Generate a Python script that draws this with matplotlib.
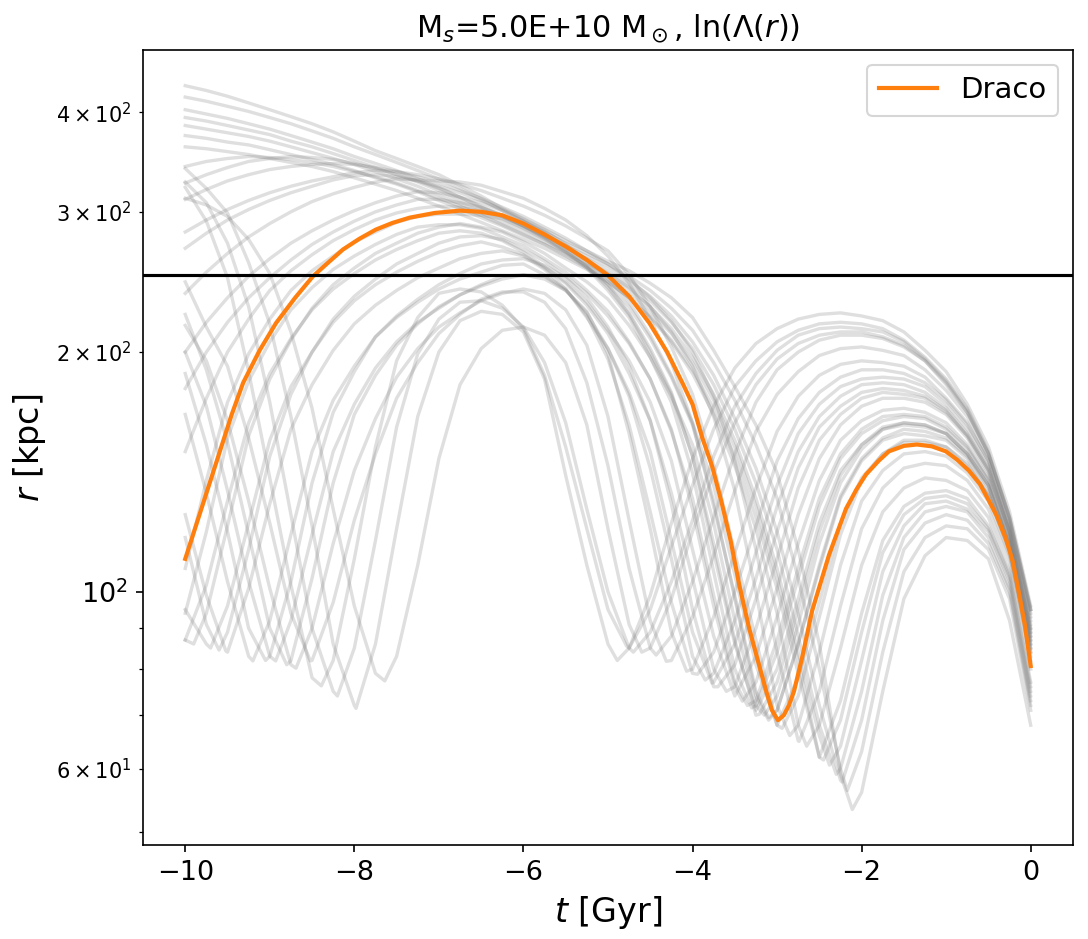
import numpy as np
import matplotlib.pyplot as plt

# common time grid [Gyr] for the grey orbits
t_grid = np.linspace(-10, 0, 41)

# Draco orbit
draco_t = [-10.0, -9.8, -9.587, -9.45, -9.315, -9.12, -8.926, -8.7, -8.489, -8.31,
           -8.135, -7.94, -7.745, -7.55, -7.344, -7.05, -6.753, -6.5, -6.25, -6.0,
           -5.75, -5.49, -5.25, -5.006, -4.75, -4.51, -4.3, -4.12, -4.0, -3.884,
           -3.77, -3.66, -3.55, -3.447, -3.33, -3.2, -3.12, -3.06, -2.99, -2.92,
           -2.86, -2.8, -2.7, -2.586, -2.385, -2.184, -2.06, -1.948, -1.8, -1.677,
           -1.5, -1.346, -1.17, -1.004, -0.87, -0.732, -0.6, -0.496, -0.4, -0.295,
           -0.21, -0.142, -0.07, 0.0]
draco_r = [110, 128, 150.5, 167, 183, 201, 217.5, 234, 249, 259,
           269, 277.5, 285, 290.5, 295, 299, 301, 300, 297, 290,
           281, 271, 261, 250, 235, 217.5, 200, 183, 172, 156,
           144, 130, 116, 102, 90, 80, 74.5, 71, 69, 70,
           72, 75, 83, 94.6, 111.3, 127.2, 134.5, 140.4, 146, 150.1,
           152.5, 153.1, 152.3, 150.1, 146.5, 142, 136.5, 130.2, 124.5, 116.7,
           109, 100, 91, 80.7]

# grey orbits on t_grid, plus pericentres (t, r) that fall between grid points
orbit_c1 = [432, 426, 419, 411, 403, 395, 387, 378, 368, 358, 350, 342, 334, 324, 314, 303, 294, 285, 276, 268,
            260, 253, 244, 234, 221, 201, 181, 162, 141, 113, 86, 59, 56, 75, 98, 111, 117, 116, 110, 92, 68]
peri_c1 = [(-2.11, 53.3)]
orbit_c2 = [418, 413, 407, 401, 394, 387, 379, 371, 362, 354, 346, 338, 330, 321, 311, 301, 292, 283, 274, 266,
            258, 249, 239, 227, 213, 194, 174, 153, 131, 104, 80, 60, 63, 84, 106, 117, 121, 120, 113, 98, 71]
peri_c2 = [(-2.17, 56.3)]
orbit_c3 = [403, 398, 393, 387, 381, 374, 367, 360, 352, 345, 338, 330, 322, 313, 304, 296, 288, 280, 272, 264,
            256, 246, 235, 222, 206, 187, 165, 143, 119, 94, 72, 58, 69, 92, 113, 122, 125, 123, 115, 100, 72]
peri_c3 = [(-2.23, 57.7)]
orbit_c4 = [385, 381, 377, 373, 368, 362, 356, 350, 344, 337, 330, 323, 315, 307, 299, 291, 283, 275, 267, 259,
            250, 240, 228, 214, 197, 177, 155, 131, 107, 84, 66, 64, 82, 106, 121, 129, 130, 127, 119, 103, 74]
peri_c4 = [(-2.38, 60.6)]
orbit_c5 = [362, 360, 357, 354, 350, 346, 342, 337, 331, 325, 319, 312, 305, 298, 291, 284, 277, 270, 262, 254,
            245, 234, 222, 207, 190, 170, 148, 124, 101, 79, 62, 73, 94, 116, 128, 133, 134, 131, 121, 105, 76]
peri_c5 = []
orbit_c6 = [342, 347, 350, 352, 351, 349, 346, 342, 337, 332, 326, 319, 312, 305, 297, 289, 281, 273, 264, 255,
            245, 234, 221, 206, 188, 167, 144, 120, 94, 68, 68, 85, 108, 126, 135, 139, 138, 134, 124, 106, 77]
peri_c6 = [(-2.65, 64)]
orbit_c7 = [394, 390, 385, 380, 375, 368, 362, 355, 348, 341, 334, 327, 319, 310, 302, 294, 286, 278, 270, 262,
            253, 243, 232, 218, 202, 182, 160, 137, 113, 88, 68, 60, 75, 99, 117, 126, 128, 126, 117, 101, 73]
peri_c7 = [(-2.3, 59)]
orbit_c8 = [374, 371, 367, 364, 359, 354, 349, 344, 338, 331, 325, 318, 310, 303, 295, 288, 280, 273, 265, 257,
            248, 237, 225, 211, 194, 174, 152, 128, 104, 82, 62, 69, 89, 112, 125, 131, 132, 129, 120, 104, 75]
peri_c8 = [(-2.45, 61.5)]
orbit_b1 = [326, 334, 341, 347, 350, 352, 351, 349, 345, 340, 334, 328, 321, 313, 305, 297, 289, 280, 271, 261,
            251, 241, 228, 212, 192, 166, 134, 100, 72, 68, 84, 108, 130, 142, 149, 150, 148, 141, 130, 111, 82]
peri_b1 = [(-2.85, 66)]
orbit_b2 = [311, 320, 328, 334, 339, 342, 344, 345, 344, 341, 337, 332, 326, 319, 312, 304, 296, 287, 278, 268,
            258, 247, 234, 219, 200, 176, 146, 113, 84, 65, 75, 96, 120, 135, 143, 145, 144, 138, 127, 109, 80]
peri_b2 = [(-2.74, 64.9)]
orbit_b3 = [283, 293, 302, 310, 317, 323, 328, 332, 336, 338, 337, 334, 330, 325, 319, 312, 305, 297, 288, 278,
            268, 250, 228, 203, 177, 144, 112, 87, 68, 74, 93, 118, 138, 149, 155, 155, 152, 145, 132, 113, 84]
peri_b3 = [(-2.94, 67.4)]
orbit_b4 = [237, 252, 266, 279, 290, 300, 309, 316, 322, 327, 330, 329, 328, 327, 324, 318, 312, 303, 293, 280,
            264, 244, 220, 194, 163, 128, 99, 75, 71, 86, 108, 132, 147, 156, 160, 159, 156, 148, 135, 114, 85]
peri_b4 = [(-3.1, 69.5)]
orbit_b5 = [200, 218, 234, 249, 262, 274, 284, 293, 301, 308, 314, 318, 317, 313, 308, 301, 292, 282, 270, 258,
            243, 224, 202, 178, 148, 115, 87, 70, 77, 95, 119, 140, 153, 160, 163, 162, 158, 149, 136, 115, 86]
peri_b5 = [(-3.21, 70.2)]
orbit_b6 = [150, 175, 200, 220, 239, 253, 265, 276, 285, 293, 299, 303, 305, 304, 301, 296, 288, 278, 267, 255,
            239, 221, 197, 173, 141, 106, 80, 72, 84, 104, 128, 147, 158, 164, 166, 165, 160, 151, 138, 116, 87]
peri_b6 = [(-3.3, 71.5)]
orbit_b7 = [94, 119, 156, 184, 206, 226, 241, 254, 264, 273, 281, 287, 289, 289, 286, 279, 272, 262, 252, 239,
            225, 206, 185, 160, 127, 96, 76, 77, 93, 115, 138, 155, 164, 169, 170, 168, 163, 153, 139, 117, 88]
peri_b7 = [(-3.41, 72.9)]
orbit_b8 = [87, 102, 130, 163, 188, 208, 226, 240, 251, 261, 269, 276, 282, 284, 282, 276, 267, 256, 245, 231,
            213, 195, 173, 146, 113, 88, 74, 83, 101, 125, 147, 162, 171, 175, 175, 173, 167, 156, 141, 118, 88]
peri_b8 = []
orbit_b9 = [95, 86, 96, 122, 155, 181, 200, 218, 232, 243, 252, 260, 267, 272, 275, 271, 265, 255, 244, 229,
            211, 188, 164, 133, 104, 80, 76, 90, 110, 135, 155, 167, 175, 178, 177, 175, 168, 157, 142, 119, 89]
peri_b9 = [(-9.7, 85), (-3.6, 75)]
orbit_b10 = [125, 99, 84, 101, 129, 160, 182, 201, 217, 229, 239, 248, 255, 262, 266, 268, 264, 254, 240, 221,
             202, 178, 150, 116, 89, 77, 86, 104, 128, 150, 166, 176, 182, 183, 182, 178, 170, 158, 143, 119, 90]
peri_b10 = [(-9.52, 84.3), (-3.77, 76.8)]
orbit_b11 = [167, 133, 103, 83, 92, 118, 150, 174, 192, 209, 221, 231, 240, 247, 252, 257, 258, 250, 240, 222,
             196, 162, 126, 97, 79, 84, 100, 121, 146, 165, 178, 186, 190, 190, 188, 183, 174, 162, 146, 120, 91]
peri_b11 = [(-9.2, 81.9), (-3.94, 78.8)]
orbit_b12 = [200, 171, 134, 103, 83, 92, 118, 150, 172, 191, 206, 218, 227, 236, 242, 247, 250, 249, 239, 225,
             199, 158, 120, 89, 80, 93, 112, 135, 159, 176, 187, 193, 195, 194, 192, 186, 175, 163, 146, 121, 92]
peri_b12 = [(-8.93, 81.9), (-4.07, 79.5)]
orbit_b13 = [216, 195, 164, 130, 101, 81, 90, 115, 142, 165, 186, 202, 215, 224, 232, 237, 240, 237, 226, 204,
             166, 123, 92, 82, 93, 111, 134, 159, 177, 189, 198, 202, 203, 201, 198, 190, 179, 166, 147, 122, 93]
peri_b13 = [(-8.69, 80.2), (-4.31, 81.8)]
orbit_b14 = [245, 215, 192, 156, 122, 94, 82, 97, 123, 149, 175, 194, 211, 223, 233, 238, 238, 231, 214, 183,
             144, 107, 85, 88, 103, 124, 149, 173, 190, 200, 207, 210, 210, 208, 203, 195, 182, 168, 149, 123, 94]
peri_b14 = [(-8.52, 81.9), (-4.43, 83.3)]
orbit_b15 = [87, 94, 121, 157, 185, 207, 227, 243, 255, 266, 274, 282, 287, 290, 287, 283, 275, 266, 255, 245,
             233, 216, 197, 176, 153, 122, 92, 72, 74, 91, 115, 137, 151, 160, 162, 161, 158, 149, 136, 114, 86]
peri_b15 = [(-9.9, 86), (-3.15, 70)]
orbit_b16 = [117, 91, 89, 113, 148, 177, 200, 220, 235, 247, 258, 266, 274, 279, 280, 277, 269, 260, 249, 237,
             222, 205, 185, 159, 131, 99, 77, 73, 87, 107, 131, 149, 160, 166, 167, 166, 161, 152, 138, 116, 87]
peri_b16 = [(-9.6, 84.5), (-3.35, 72)]
orbit_b18 = [188, 153, 119, 90, 83, 103, 137, 168, 189, 209, 222, 233, 243, 251, 258, 261, 262, 257, 248, 234,
             215, 192, 164, 129, 95, 76, 81, 98, 119, 143, 161, 171, 178, 180, 179, 176, 169, 157, 142, 119, 89]
peri_b18 = [(-9.05, 82), (-3.7, 76)]
orbit_b19 = [223, 190, 154, 118, 90, 82, 104, 137, 167, 187, 204, 217, 228, 236, 243, 249, 250, 247, 239, 224,
             202, 176, 143, 110, 83, 79, 92, 112, 136, 158, 172, 181, 185, 186, 185, 181, 172, 160, 144, 119, 90]
peri_b19 = [(-8.8, 81), (-3.85, 77.5)]
orbit_b20 = [270, 282, 293, 302, 310, 317, 323, 329, 333, 334, 332, 328, 323, 317, 310, 302, 293, 284, 273, 261,
             247, 231, 210, 187, 163, 136, 105, 81, 68, 78, 97, 122, 139, 149, 154, 154, 152, 144, 132, 112, 83]
peri_b20 = []
orbit_b21 = [180, 200, 218, 234, 248, 261, 273, 283, 292, 300, 306, 311, 311, 308, 304, 297, 288, 279, 268, 256,
             241, 223, 200, 177, 148, 112, 86, 71, 80, 98, 122, 142, 153, 161, 163, 162, 158, 149, 136, 114, 85]
peri_b21 = []
orbit_b22 = [107, 138, 173, 199, 220, 239, 253, 264, 275, 283, 291, 296, 298, 298, 297, 294, 286, 277, 267, 256,
             243, 228, 208, 186, 162, 130, 98, 74, 71, 86, 107, 131, 146, 155, 158, 157, 155, 147, 133, 113, 84]
peri_b22 = [(-3.1, 69)]
orbit_s1 = [340, 321, 299, 259, 217, 166, 121, 86, 72, 86, 120, 166, 200, 219, 225, 223, 212, 185, 140, 108,
            86, 85, 99, 122, 147, 171, 191, 205, 214, 220, 223, 224, 222, 219, 212, 201, 189, 172, 152, 126, 96]
peri_s1 = [(-7.98, 71.4), (-4.89, 82)]
orbit_s2 = [322, 292, 248, 189, 139, 102, 78, 82, 110, 152, 195, 221, 237, 240, 238, 229, 214, 187, 152, 120,
            95, 85, 95, 114, 136, 160, 181, 195, 206, 213, 217, 218, 217, 214, 207, 197, 185, 170, 150, 124, 95]
peri_s2 = [(-8.39, 76.2), (-4.78, 85.5)]
orbit_s3 = [312, 306, 296, 277, 251, 212, 170, 127, 96, 79, 83, 108, 147, 182, 202, 213, 215, 210, 194, 162,
            120, 91, 85, 98, 119, 141, 163, 182, 196, 205, 210, 212, 212, 209, 204, 195, 183, 168, 149, 124, 95]
peri_s3 = [(-7.64, 77.3), (-4.6, 84)]
orbit_s4 = [327, 308, 274, 228, 173, 125, 90, 75, 85, 116, 161, 199, 220, 231, 232, 227, 215, 194, 163, 127,
            100, 85, 89, 103, 123, 148, 171, 188, 201, 210, 214, 215, 214, 212, 206, 196, 184, 169, 149, 124, 95]
peri_s4 = [(-8.2, 74), (-4.7, 84)]

orbits = [(orbit_c1, peri_c1), (orbit_c2, peri_c2), (orbit_c3, peri_c3), (orbit_c4, peri_c4),
          (orbit_c5, peri_c5), (orbit_c6, peri_c6), (orbit_c7, peri_c7), (orbit_c8, peri_c8),
          (orbit_b1, peri_b1), (orbit_b2, peri_b2), (orbit_b3, peri_b3), (orbit_b4, peri_b4),
          (orbit_b5, peri_b5), (orbit_b6, peri_b6), (orbit_b7, peri_b7), (orbit_b8, peri_b8),
          (orbit_b9, peri_b9), (orbit_b10, peri_b10), (orbit_b11, peri_b11), (orbit_b12, peri_b12),
          (orbit_b13, peri_b13), (orbit_b14, peri_b14), (orbit_b15, peri_b15), (orbit_b16, peri_b16),
          (orbit_b18, peri_b18), (orbit_b19, peri_b19), (orbit_b20, peri_b20), (orbit_b21, peri_b21),
          (orbit_b22, peri_b22), (orbit_s1, peri_s1), (orbit_s2, peri_s2), (orbit_s3, peri_s3),
          (orbit_s4, peri_s4)]

fig = plt.figure(figsize=(1088 / 150, 939 / 150), dpi=150)
ax = fig.add_axes([0.1314, 0.1001, 0.8548, 0.8467])

for r, peri in orbits:
    t = np.concatenate([t_grid, [p[0] for p in peri]])
    rr = np.concatenate([r, [p[1] for p in peri]])
    order = np.argsort(t)
    ax.plot(t[order], rr[order], color='grey', alpha=0.25, lw=1.6)

ax.plot(draco_t, draco_r, color='tab:orange', lw=2, label='Draco')
ax.axhline(250, color='k', lw=1.5)

ax.set_yscale('log')
ax.set_xlim(-10.5, 0.5)
ax.set_ylim(48.1, 479)
ax.set_xlabel(r'$t$ [Gyr]', fontsize=16)
ax.set_ylabel(r'$r$ [kpc]', fontsize=16)
ax.set_title(r'M$_s$=5.0E+10 M$_\odot$, ln($\Lambda(r)$)', fontsize=14.5)
ax.tick_params(axis='both', which='major', labelsize=13)
ax.legend(loc='upper right', fontsize=14)

fig.savefig('out.png', dpi=150)
